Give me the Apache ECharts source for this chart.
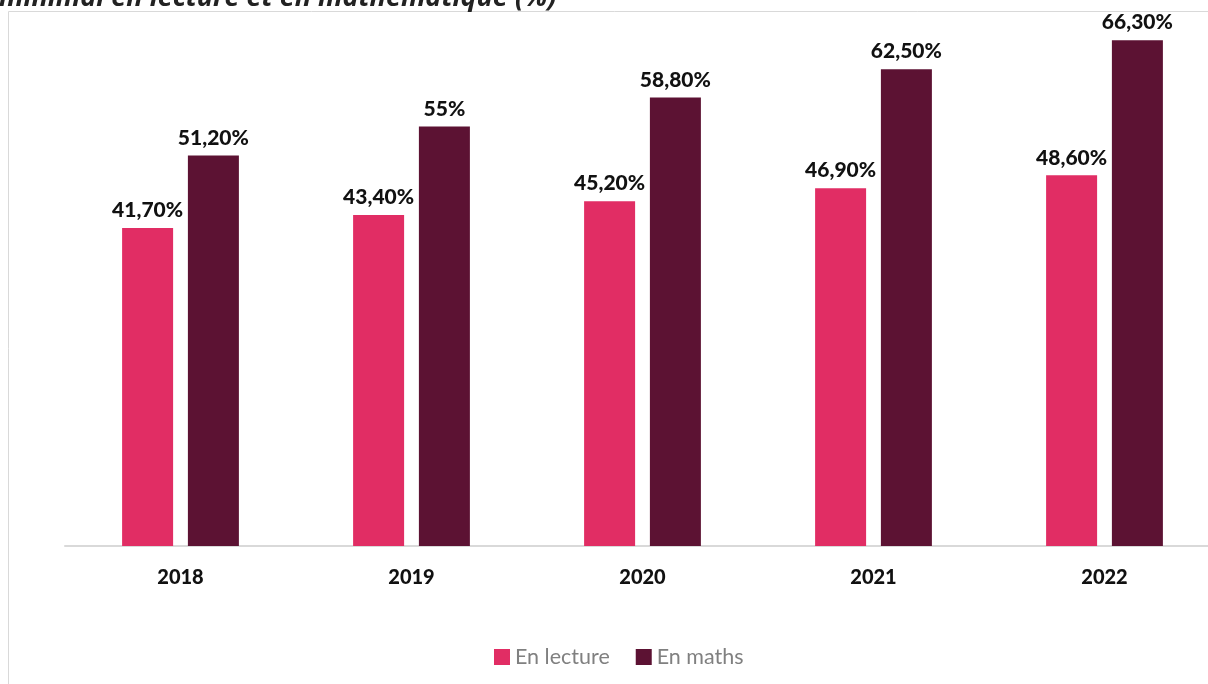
<!DOCTYPE html>
<html><head><meta charset="utf-8">
<script src="https://cdn.jsdelivr.net/npm/echarts@6/dist/echarts.min.js"></script>
<style>html,body{margin:0;padding:0;background:#fff;overflow:hidden}#c{width:1220px;height:684px}</style>
</head><body><div id="c"></div>
<script>
const categories = ['2018', '2019', '2020', '2021', '2022'];
const lecture = [41.7, 43.4, 45.2, 46.9, 48.6];
const maths = [51.2, 55, 58.8, 62.5, 66.3];
const lectureLabels = ['41,70%', '43,40%', '45,20%', '46,90%', '48,60%'];
const mathsLabels = ['51,20%', '55%', '58,80%', '62,50%', '66,30%'];
const titleText = 'minimal en lecture et en mathématique (%)';

const FONT = 'Lato, "Open Sans", sans-serif';
const chart = echarts.init(document.getElementById('c'), null, {renderer: 'canvas'});
chart.setOption({
  animation: false,
  graphic: [
    {type: 'rect', shape: {x: 8.5, y: 11.5, width: 1300, height: 800}, style: {fill: 'none', stroke: '#d9d9d9', lineWidth: 1}, z: -1},
    {type: 'text', x: -1, y: 12, style: {text: titleText, font: 'italic bold 27px "Open Sans", sans-serif', fill: '#222', verticalAlign: 'bottom', textVerticalAlign: 'bottom'}}
  ],
  grid: {left: 65, right: 0, top: 12, height: 534, containLabel: false},
  legend: {
    top: 641, left: 489, itemWidth: 16, itemHeight: 16, itemGap: 26,
    icon: 'rect',
    textStyle: {color: '#808080', fontSize: 21.5, fontFamily: FONT},
    data: ['En lecture', 'En maths']
  },
  xAxis: {
    type: 'category', data: categories,
    axisLine: {lineStyle: {color: '#d9d9d9', width: 2}},
    axisTick: {show: false},
    axisLabel: {color: '#111', fontWeight: 900, fontSize: 20, fontFamily: FONT, margin: 22}
  },
  yAxis: {type: 'value', min: 0, max: 70, show: false, splitLine: {show: false}},
  series: [
    {name: 'En lecture', type: 'bar', data: lecture, barWidth: 51, barGap: '29%',
     itemStyle: {color: '#E12D64'},
     label: {show: true, position: 'top', distance: 7, color: '#111', fontWeight: 900, fontSize: 21, fontFamily: FONT,
       formatter: p => lectureLabels[p.dataIndex]}},
    {name: 'En maths', type: 'bar', data: maths, barWidth: 51,
     itemStyle: {color: '#5C1233'},
     label: {show: true, position: 'top', distance: 7, color: '#111', fontWeight: 900, fontSize: 21, fontFamily: FONT,
       formatter: p => mathsLabels[p.dataIndex]}}
  ]
});
</script></body></html>
